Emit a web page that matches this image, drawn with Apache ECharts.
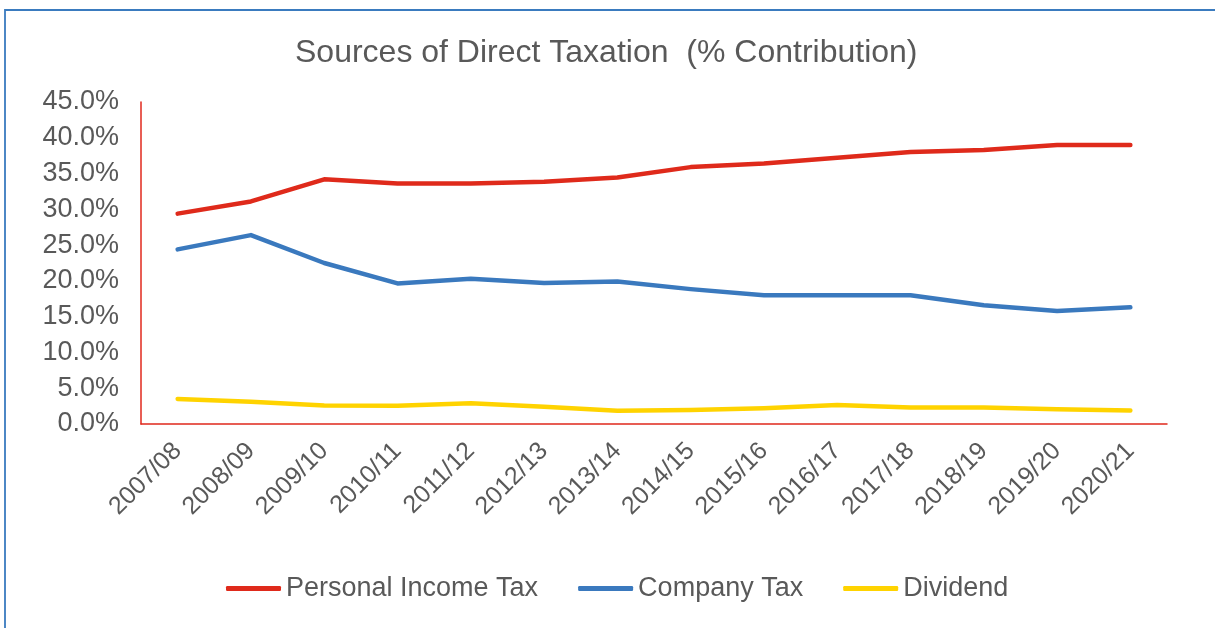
<!DOCTYPE html>
<html>
<head>
<meta charset="utf-8">
<script src="https://cdn.jsdelivr.net/npm/echarts@6/dist/echarts.min.js"></script>
<style>
html,body{margin:0;padding:0;background:#fff;}
#chart{width:1215px;height:628px;}
</style>
</head>
<body>
<div id="chart"></div>
<script>
const categories = ['2007/08','2008/09','2009/10','2010/11','2011/12','2012/13','2013/14','2014/15','2015/16','2016/17','2017/18','2018/19','2019/20','2020/21'];
const personalIncomeTax = [29.4, 31.1, 34.2, 33.6, 33.6, 33.85, 34.45, 35.9, 36.4, 37.2, 38.0, 38.3, 39.0, 39.0];
const companyTax = [24.4, 26.4, 22.5, 19.65, 20.3, 19.7, 19.9, 18.85, 18.0, 18.0, 18.0, 16.6, 15.8, 16.3];
const dividend = [3.5, 3.1, 2.6, 2.55, 2.9, 2.4, 1.86, 1.95, 2.2, 2.65, 2.3, 2.3, 2.05, 1.9];
const yTicks = {min: 0, max: 45, interval: 5};

const font = '"Liberation Sans", Arial, sans-serif';
const textColor = '#595959';
const chart = echarts.init(document.getElementById('chart'));
function lineSeries(name, data, color) {
  return {
    name: name, type: 'line', data: data, showSymbol: false, symbol: 'none',
    lineStyle: {color: color, width: 4.5, cap: 'round', join: 'round'},
    itemStyle: {color: color},
    emphasis: {disabled: true}
  };
}
chart.setOption({
  animation: false,
  graphic: [{
    type: 'rect', shape: {x: 5, y: 10, width: 1300, height: 700},
    style: {fill: 'none', stroke: '#3A7BBF', lineWidth: 1.8}, silent: true
  }],
  title: {
    text: 'Sources of Direct Taxation  (% Contribution)',
    left: 290, top: 32,
    textStyle: {fontFamily: font, fontSize: 32, fontWeight: 'normal', color: textColor}
  },
  legend: {
    left: 221, top: 570,
    itemWidth: 55, itemHeight: 5, itemGap: 40, icon: 'roundRect',
    textStyle: {fontFamily: font, fontSize: 27, color: textColor},
    data: ['Personal Income Tax', 'Company Tax', 'Dividend']
  },
  grid: {left: 141, right: 48, top: 102, bottom: 204, containLabel: false},
  xAxis: {
    type: 'category', data: categories, boundaryGap: true,
    axisLine: {lineStyle: {color: '#E0291C', width: 1.5}},
    axisTick: {show: false},
    axisLabel: {rotate: 45, fontFamily: font, fontSize: 25, color: textColor, margin: 23, interval: 0}
  },
  yAxis: {
    type: 'value', min: yTicks.min, max: yTicks.max, interval: yTicks.interval,
    axisLine: {show: true, lineStyle: {color: '#E0291C', width: 1.5}},
    axisTick: {show: false},
    splitLine: {show: false},
    axisLabel: {fontFamily: font, fontSize: 27, color: textColor, margin: 22,
      formatter: function (v) { return v.toFixed(1) + '%'; }}
  },
  series: [
    lineSeries('Personal Income Tax', personalIncomeTax, '#DF2A1B'),
    lineSeries('Company Tax', companyTax, '#3A79BE'),
    lineSeries('Dividend', dividend, '#FFD300')
  ]
});
</script>
</body>
</html>
